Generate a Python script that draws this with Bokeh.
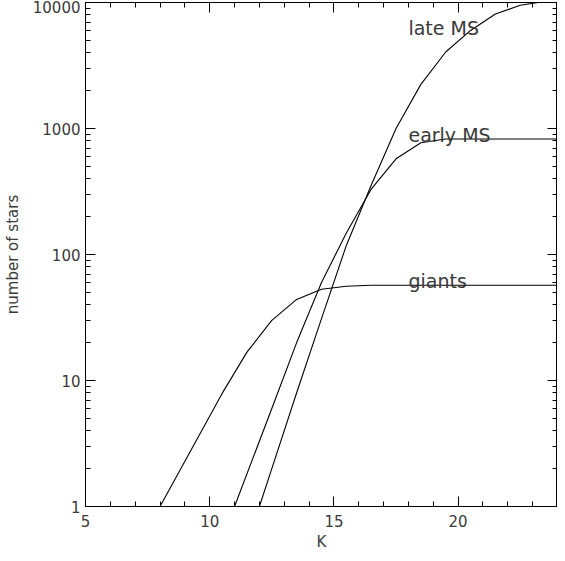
from bokeh.plotting import figure
from bokeh.models import (FixedTicker, LinearAxis, LogAxis, Range1d,
                          NumeralTickFormatter, CustomJSTickFormatter)
from bokeh.core.properties import value
from bokeh.embed import file_html
from bokeh.resources import INLINE

# ---- data ----
k_late = [12, 12.5, 13.5, 14.5, 15.5, 16.5, 17.5, 18.5, 19.5, 20.5, 21.5, 22.5, 23.5, 24]
n_late = [1, 2, 8, 31, 118, 355, 1000, 2240, 4050, 6000, 8100, 9500, 10200, 10300]

k_early = [11, 12.5, 13.5, 14.5, 15.5, 16.5, 17.5, 18.5, 19.5, 20.5, 21.5, 22.5, 23.5, 24]
n_early = [1, 6, 20, 60, 148, 330, 575, 770, 825, 825, 825, 825, 825, 825]

k_giants = [8, 10.5, 11.5, 12.5, 13.5, 14.5, 15.5, 16.5, 17.5, 18.5, 19.5, 20.5, 21.5, 22.5, 23.5, 24]
n_giants = [1, 7.9, 16.8, 30, 44, 53, 56, 57, 57, 57, 57, 57, 57, 57, 57, 57]

series_names = ["late MS", "early MS", "giants"]
label_k = [18, 18, 18]
label_n = [6300, 880, 62]

x_major = [5, 10, 15, 20]
x_minor = list(range(5, 25))
y_major = [1, 10, 100, 1000, 10000]
y_minor = [m * d for d in [1, 10, 100, 1000] for m in range(2, 10)]

FONT = "DejaVu Sans"
TXT = "#3a3a3a"

p = figure(width=557, height=553, output_backend="svg", toolbar_location=None,
           y_axis_type="log", x_range=Range1d(5, 24), y_range=Range1d(1, 10000),
           min_border=0, min_border_top=2, min_border_right=0, min_border_bottom=0,
           min_border_left=0)
p.xgrid.visible = False
p.ygrid.visible = False
p.outline_line_color = "black"
p.background_fill_color = "white"
p.border_fill_color = "white"

for xs, ys in [(k_late, n_late), (k_early, n_early), (k_giants, n_giants)]:
    p.line(xs, ys, line_color="black", line_width=1.1)

p.text(x=label_k, y=label_n, text=series_names, text_font=value(FONT),
       text_font_size="19px", text_color=TXT, text_baseline="alphabetic",
       text_align="left")

def style_axis(ax, labels=True):
    ax.axis_line_color = "black"
    ax.major_tick_in = 10
    ax.major_tick_out = 0
    ax.minor_tick_in = 5
    ax.minor_tick_out = 0
    ax.major_tick_line_color = "black"
    ax.minor_tick_line_color = "black"
    ax.major_label_text_font = FONT
    ax.major_label_text_font_size = "15px"
    ax.major_label_text_color = TXT
    ax.axis_label_text_font = FONT
    ax.axis_label_text_font_size = "15px"
    ax.axis_label_text_font_style = "normal"
    ax.axis_label_text_color = TXT
    if not labels:
        ax.formatter = CustomJSTickFormatter(code="return ''")
        ax.major_label_standoff = 0
        ax.axis_label_standoff = 0
        ax.axis_label = None

xt = FixedTicker(ticks=x_major, minor_ticks=x_minor)
yt = FixedTicker(ticks=y_major, minor_ticks=y_minor)

xa = p.xaxis[0]
xa.ticker = xt
xa.axis_label = "K"
style_axis(xa)
xa.major_label_standoff = 8
xa.axis_label_standoff = 3

ya = p.yaxis[0]
ya.ticker = yt
ya.formatter = NumeralTickFormatter(format="0")
ya.axis_label = "number of stars"
style_axis(ya)
ya.major_label_standoff = 5
ya.axis_label_standoff = 8

top = LinearAxis(ticker=FixedTicker(ticks=x_major, minor_ticks=x_minor))
style_axis(top, labels=False)
p.add_layout(top, "above")

right = LogAxis(ticker=FixedTicker(ticks=y_major, minor_ticks=y_minor))
style_axis(right, labels=False)
p.add_layout(right, "right")

open("out.html", "w").write(file_html(p, INLINE))
